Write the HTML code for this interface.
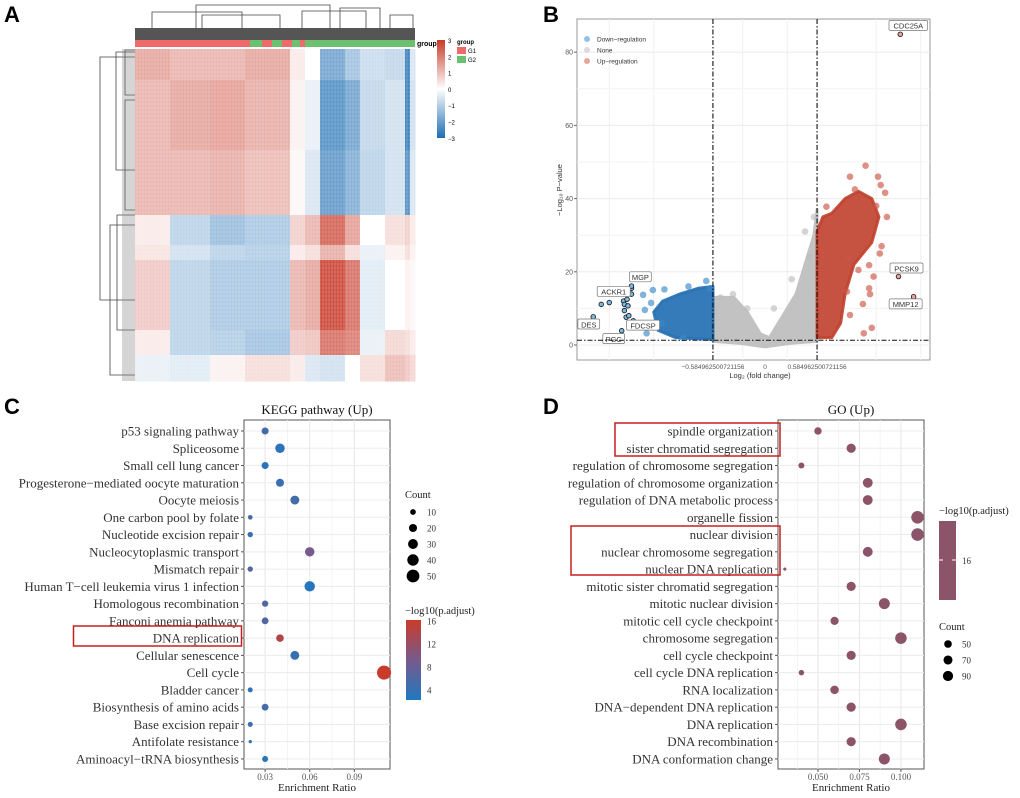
<!DOCTYPE html>
<html><head><meta charset="utf-8"><style>
body{margin:0;background:#fff;}
svg{display:block;font-family:"Liberation Serif",serif;}
</style></head><body>
<svg id="fig" width="1020" height="798" viewBox="0 0 1020 798" xmlns="http://www.w3.org/2000/svg">
<g font-family="Liberation Sans,sans-serif" font-weight="bold" font-size="22" fill="#000">
<text x="4" y="22">A</text>
<text x="543" y="22">B</text>
<text x="4" y="414">C</text>
<text x="543" y="414">D</text>
</g>
<g id="pa"></g>
<g id="pb"></g>
<g id="pc"></g>
<g id="pd"></g>
</svg>
<script>
const NS="http://www.w3.org/2000/svg";
function mk(p,t,a,txt){const e=document.createElementNS(NS,t);for(const k in a)e.setAttribute(k,a[k]);if(txt!==undefined)e.textContent=txt;p.appendChild(e);return e;}

// ---------- Panel A data ----------
const hmColBreaks=[135,170,210,245,290,305,320,345,360,385,405,410,415];
const hmRowBreaks=[49,80,150,215,245,260,330,355,381];
const hmValues=[
[1.3,1.1,1.1,1.3,0.3,0,-1.8,-1.2,-0.7,-0.8,-2.5,-0.5],
[1.1,1.3,1.4,1.2,0.2,-0.3,-2.2,-1.8,-0.8,-0.6,-2.5,-0.6],
[1.1,1.1,1.2,1.0,0.1,-0.5,-2.0,-1.6,-0.9,-0.6,-2.2,-0.5],
[0.3,-0.9,-1.3,-1.1,0.7,1.1,2.3,1.4,0.0,0.5,0.7,0.3],
[0.4,-0.6,-0.9,-1.0,0.3,0.5,1.2,0.5,-0.3,0.2,0.5,0.2],
[0.8,-0.9,-1.1,-1.1,1.1,1.3,2.7,2.1,-0.4,0.0,0.2,0.1],
[0.3,-0.9,-1.0,-1.2,0.8,0.9,2.1,1.9,-0.3,0.6,0.5,0.3],
[-0.3,-0.4,0.2,0.5,0.3,-0.5,-0.6,0.0,0.5,1.0,0.8,0.6]];
const groupSegs=[[135,"G1"],[175,"G1"],[185,"G1"],[250,"G2"],[262,"G1"],[272,"G2"],[282,"G1"],[292,"G2"],[300,"G1"],[305,"G2"],[326,"G2"],[415,"end"]];
const hmLegendTicks=[3,2,1,0,-1,-2,-3];

function hmColor(v){v=Math.max(-3,Math.min(3,v));const w=[255,255,255],r=[200,58,41],b=[30,110,180];const t=Math.abs(v)/3,c=v>0?r:b;return `rgb(${w.map((x,i)=>Math.round(x+(c[i]-x)*t)).join(',')})`;}
(function(){
 const g=document.getElementById('pa');
 for(let i=0;i<hmValues.length;i++)for(let j=0;j<hmValues[i].length;j++){
  const r=mk(g,'rect',{x:hmColBreaks[j],y:hmRowBreaks[i],width:hmColBreaks[j+1]-hmColBreaks[j]+0.5,height:hmRowBreaks[i+1]-hmRowBreaks[i]+0.5,fill:hmColor(hmValues[i][j])});
  
  
 }
 for(let x=137;x<415;x+=3){mk(g,'line',{x1:x,y1:49,x2:x,y2:381,stroke:'#fff','stroke-opacity':0.2,'stroke-width':1});}
 for(let y=52;y<381;y+=4){mk(g,'line',{x1:135,y1:y,x2:415,y2:y,stroke:'#fff','stroke-opacity':0.12,'stroke-width':1});}
 for(let k=0;k<groupSegs.length-1;k++){
  const r=mk(g,'rect',{x:groupSegs[k][0],y:40,width:groupSegs[k+1][0]-groupSegs[k][0],height:7,fill:groupSegs[k][1]=="G1"?"#ef6a6a":"#6cc070"});
  
  
 }
 mk(g,'text',{x:417,y:46,'font-size':7,'font-family':'Liberation Sans,sans-serif','font-weight':'bold'},'group');
 mk(g,'rect',{x:135,y:28,width:280,height:12,fill:'#555',});
 const dg=[[196,5,330,1],[152,12,242,5],[202,15,280,11],[340,8,380,15],[302,11,366,5],[390,15,413,15]];
 dg.forEach(d=>{mk(g,'path',{d:`M${d[0]} 28 V${d[1]} H${d[2]} V28`,fill:'none',stroke:'#444','stroke-width':0.8});});
 const ld=[[100,57,300,1],[116,52,170,18],[117,215,330,12],[110,225,375,8],[125,50,95,20],[125,100,210,22]];
 ld.forEach(d=>{mk(g,'path',{d:`M135 ${d[1]} H${d[0]} V${d[2]} H135`,fill:'none',stroke:'#444','stroke-width':0.8});});
 mk(g,'rect',{x:122,y:49,width:13,height:332,fill:'#888','fill-opacity':0.35,});
 const lg=mk(g,'defs',{});const gr=mk(lg,'linearGradient',{id:'hmg',x1:0,y1:0,x2:0,y2:1});
 [[0,'#c83a29'],[0.5,'#fff'],[1,'#1e6eb4']].forEach(s=>mk(gr,'stop',{offset:s[0],'stop-color':s[1]}));
 mk(g,'rect',{x:437,y:40,width:8,height:98,fill:'url(#hmg)',});
 hmLegendTicks.forEach((t,i)=>mk(g,'text',{x:448,y:43+i*16.3,'font-size':6,'font-family':'Liberation Sans,sans-serif'},t>=0?String(t):'−'+(-t)));
 mk(g,'text',{x:457,y:44,'font-size':6,'font-family':'Liberation Sans,sans-serif','font-weight':'bold'},'group');
 mk(g,'rect',{x:457,y:47,width:9,height:7,fill:'#ef6a6a'});mk(g,'text',{x:468,y:53,'font-size':6,'font-family':'Liberation Sans,sans-serif'},'G1');
 mk(g,'rect',{x:457,y:56,width:9,height:7,fill:'#6cc070'});mk(g,'text',{x:468,y:62,'font-size':6,'font-family':'Liberation Sans,sans-serif'},'G2');
})();

// ---------- Panel B data ----------
const grayEnvelope=[[-0.585,1],[-0.585,13],[-0.35,13],[-0.2,9],[-0.05,3],[0.05,2],[0.2,8],[0.35,14],[0.45,22],[0.55,30],[0.585,37],[0.585,1],[0.3,0.5],[0,-0.5],[-0.3,0.5]];
const blueEnvelope=[[-0.585,1.5],[-0.585,16],[-0.75,15.5],[-0.95,14],[-1.15,12],[-1.25,9],[-1.2,4],[-1.0,2]];
const redEnvelope=[[0.585,2],[0.585,31],[0.65,35],[0.75,36],[0.9,40],[1.05,42],[1.2,40],[1.28,35],[1.2,28],[1.0,22],[0.9,14],[0.85,6],[0.75,2]];
const bluePoints=[[-1.37,13.7],[-1.26,15],[-1.13,15.2],[-0.86,16],[-0.66,17.5],[-1.33,3.2],[-1.16,6],[-0.92,1.9],[-1.35,9.6],[-1.28,11.5],[-0.62,15.5]];
const redPoints=[[1.13,49],[0.955,46],[1.27,46],[1.30,43.7],[1.01,42.5],[1.35,41.6],[1.37,35],[1.31,27],[1.29,25],[1.17,21.8],[1.22,18.7],[1.17,15.5],[1.18,13.9],[1.10,11.2],[1.20,4.7],[1.11,3.2],[0.955,8.2],[0.92,14.6],[1.05,20.5],[0.94,24],[0.69,37.8],[1.25,38]];
const grayPoints=[[-0.5,13],[-0.36,13.9],[-0.2,10],[0.1,10],[0.3,18],[0.45,31],[0.55,35],[0.5,24]];
const labeledGenes=[["CDC25A",1.52,84.9,"up"],["PCSK9",1.50,18.7,"up"],["MMP12",1.67,13.2,"up"],["MGP",-1.50,16.1,"down"],["ACKR1",-1.55,12.5,"down"],["DES",-1.93,7.7,"down"],["FDCSP",-1.48,6.6,"down"],["PGC",-1.61,3.9,"down"]];
const extraLabeled=[[-1.84,11.1],[-1.75,11.6],[-1.59,12],[-1.58,11.1],[-1.54,10.7],[-1.50,13.9],[-1.50,15.5],[-1.58,9.4],[-1.56,7.6],[-1.53,8]];
const labelPos={CDC25A:[1.61,87.2],PCSK9:[1.59,20.9],MMP12:[1.58,11.1],MGP:[-1.40,18.5],ACKR1:[-1.70,14.5],DES:[-1.98,5.6],FDCSP:[-1.37,5.3],PGC:[-1.70,1.6]};
const volYTicks=[0,20,40,60,80];
const volXTicks=[-0.584962500721156,0,0.584962500721156];
(function(){
 const g=document.getElementById('pb');
 const X0=577,X1=930,Y0=19,Y1=360;
 const xs=v=>765+v*89, ys=v=>345-v*3.66;
 mk(g,'rect',{x:X0,y:Y0,width:X1-X0,height:Y1-Y0,fill:'#fff',stroke:'#999','stroke-width':1,});
 [-1.75,-1.25,-0.25,0.25,1.25,1.75].forEach(v=>mk(g,'line',{x1:xs(v),y1:Y0,x2:xs(v),y2:Y1,stroke:'#f0f0f0'}));
 [10,30,50,70].forEach(v=>mk(g,'line',{x1:X0,y1:ys(v),x2:X1,y2:ys(v),stroke:'#f3f3f3'}));
 volYTicks.forEach(v=>{mk(g,'line',{x1:X0,y1:ys(v),x2:X1,y2:ys(v),stroke:'#ececec'});mk(g,'line',{x1:X0-3,y1:ys(v),x2:X0,y2:ys(v),stroke:'#666'});
  const t=mk(g,'text',{x:X0-4,y:ys(v)+2.5,'font-size':7,'text-anchor':'end',fill:'#555','font-family':'Liberation Sans,sans-serif'},String(v));});
 volXTicks.forEach(v=>{const t=mk(g,'text',{x:xs(v),y:369,'font-size':6.5,'text-anchor':'middle',fill:'#555','font-family':'Liberation Sans,sans-serif'},v<0?'−'+(-v):String(v));});
 const poly=(pts,fill,name,op)=>{const p=mk(g,'polygon',{points:pts.map(p=>xs(p[0])+','+ys(p[1])).join(' '),fill:fill,'fill-opacity':op,stroke:fill,'stroke-opacity':op,'stroke-width':3,'stroke-linejoin':'round'});};
 poly(grayEnvelope,'#c2c2c2','none-density',1);
 poly(blueEnvelope,'#2a73b5','down-density',0.95);
 poly(redEnvelope,'#c0402e','up-density',0.9);
 const pts=(arr,fill,name)=>arr.forEach(p=>{const c=mk(g,'circle',{cx:xs(p[0]),cy:ys(p[1]),r:3.3,fill:fill,'fill-opacity':0.65});});
 pts(grayPoints,'#bdbdbd','none-point');pts(bluePoints,'#3b8ac8','down-point');pts(redPoints,'#cc5545','up-point');
 extraLabeled.forEach(p=>mk(g,'circle',{cx:xs(p[0]),cy:ys(p[1]),r:2.3,fill:'#7fb8e0',stroke:'#111','stroke-width':0.8}));
 labeledGenes.forEach(d=>{const c=mk(g,'circle',{cx:xs(d[1]),cy:ys(d[2]),r:2.3,fill:d[3]=='up'?'#e8a49c':'#7fb8e0',stroke:'#111','stroke-width':0.8});
  const lp=labelPos[d[0]];const lx=xs(lp[0]),ly=ys(lp[1]);const w=d[0].length*5.6+5;
  const r=mk(g,'rect',{x:lx-w/2,y:ly-5.5,width:w,height:10,fill:'#fff',stroke:'#777','stroke-width':0.7,rx:1.5});
  mk(g,'text',{x:lx,y:ly+2.8,'font-size':7.5,'text-anchor':'middle','font-family':'Liberation Sans,sans-serif',fill:'#333'},d[0]);});
 const dash='5,2,1.5,2';
 [-0.585,0.585].forEach(v=>mk(g,'line',{x1:xs(v),y1:Y0,x2:xs(v),y2:Y1,stroke:'#111','stroke-width':1.1,'stroke-dasharray':dash,}));
 mk(g,'line',{x1:X0,y1:ys(1.3),x2:X1,y2:ys(1.3),stroke:'#111','stroke-width':1.1,'stroke-dasharray':dash,});
 [['Down−regulation','#8fc3e6',39],['None','#dcdcdc',50],['Up−regulation','#eaa59c',61]].forEach(l=>{mk(g,'circle',{cx:587,cy:l[2],r:3,fill:l[1]});const t=mk(g,'text',{x:597,y:l[2]+2.3,'font-size':6.5,'font-family':'Liberation Sans,sans-serif',fill:'#333'},l[0]);});
 mk(g,'text',{x:760,y:378,'font-size':7.5,'text-anchor':'middle','font-family':'Liberation Sans,sans-serif',fill:'#333',},'Log₂ (fold change)');
 mk(g,'text',{x:0,y:0,transform:'translate(562,190) rotate(-90)','font-size':7.5,'text-anchor':'middle','font-family':'Liberation Sans,sans-serif',fill:'#333',},'−Log₁₀ P−value');
})();

// ---------- Panel C data ----------
const keggTerms=["p53 signaling pathway","Spliceosome","Small cell lung cancer","Progesterone−mediated oocyte maturation","Oocyte meiosis","One carbon pool by folate","Nucleotide excision repair","Nucleocytoplasmic transport","Mismatch repair","Human T−cell leukemia virus 1 infection","Homologous recombination","Fanconi anemia pathway","DNA replication","Cellular senescence","Cell cycle","Bladder cancer","Biosynthesis of amino acids","Base excision repair","Antifolate resistance","Aminoacyl−tRNA biosynthesis"];
const keggRatio=[0.03,0.04,0.03,0.04,0.05,0.02,0.02,0.06,0.02,0.06,0.03,0.03,0.04,0.05,0.11,0.02,0.03,0.02,0.02,0.03];
const keggCount=[14,25,14,18,22,6,8,25,8,30,11,13,16,22,55,7,13,7,3,10];
const keggLogP=[5,3,3,4,5,5,4,9,6,2.5,6,6,14,4,16,3,5,4,3,3];
const keggXTicks=[0.03,0.06,0.09];
const keggCountLegend=[10,20,30,40,50];
const keggColorTicks=[16,12,8,4];

// ---------- Panel D data ----------
const goTerms=["spindle organization","sister chromatid segregation","regulation of chromosome segregation","regulation of chromosome organization","regulation of DNA metabolic process","organelle fission","nuclear division","nuclear chromosome segregation","nuclear DNA replication","mitotic sister chromatid segregation","mitotic nuclear division","mitotic cell cycle checkpoint","chromosome segregation","cell cycle checkpoint","cell cycle DNA replication","RNA localization","DNA−dependent DNA replication","DNA replication","DNA recombination","DNA conformation change"];
const goRatio=[0.05,0.07,0.04,0.08,0.08,0.11,0.11,0.08,0.03,0.07,0.09,0.06,0.10,0.07,0.04,0.06,0.07,0.10,0.07,0.09];
const goCount=[45,70,30,80,80,130,130,80,8,70,100,55,110,70,25,60,70,110,70,100];
const goXTicks=[0.050,0.075,0.100];
const goCountLegend=[50,70,90];

function colorP(v){const t=Math.max(0,Math.min(1,(v-2)/14));const a=[31,120,192],m=[120,90,140],b=[201,59,42];let c;if(t<0.5){const s=t/0.5;c=a.map((x,i)=>x+(m[i]-x)*s);}else{const s=(t-0.5)/0.5;c=m.map((x,i)=>x+(b[i]-x)*s);}return `rgb(${c.map(Math.round).join(',')})`;}

function dotPlot(g,cfg){
 const {X0,X1,Y0,Y1,xmin,xmax,terms,ratio,count,rfun,colfun,ticks,tfmt,title}=cfg;
 const xs=v=>X0+(v-xmin)/(xmax-xmin)*(X1-X0);
 const ys=i=>431+i*17.26;
 mk(g,'rect',{x:X0,y:Y0,width:X1-X0,height:Y1-Y0,fill:'#fff',stroke:'#555','stroke-width':1,});
 ticks.forEach((t,k)=>{mk(g,'line',{x1:xs(t),y1:Y0,x2:xs(t),y2:Y1,stroke:'#e6e6e6','stroke-width':1});
   if(k<ticks.length-1){const h=(t+ticks[k+1])/2;mk(g,'line',{x1:xs(h),y1:Y0,x2:xs(h),y2:Y1,stroke:'#f2f2f2','stroke-width':0.8});}
   mk(g,'line',{x1:xs(t),y1:Y1,x2:xs(t),y2:Y1+3,stroke:'#555'});
   const tx=mk(g,'text',{x:xs(t),y:Y1+11,'font-size':9,'text-anchor':'middle',fill:'#555'},tfmt(t));});
 {const h=ticks[0]-(ticks[1]-ticks[0])/2;if(xs(h)>X0)mk(g,'line',{x1:xs(h),y1:Y0,x2:xs(h),y2:Y1,stroke:'#f2f2f2','stroke-width':0.8});}
 terms.forEach((t,i)=>{mk(g,'line',{x1:X0,y1:ys(i),x2:X1,y2:ys(i),stroke:'#ececec','stroke-width':1});
   mk(g,'line',{x1:X0-3,y1:ys(i),x2:X0,y2:ys(i),stroke:'#555'});
   const tx=mk(g,'text',{x:X0-5,y:ys(i)+4.5,'font-size':13,'text-anchor':'end',fill:'#333'},t);});
 terms.forEach((t,i)=>{const c=mk(g,'circle',{cx:xs(ratio[i]),cy:ys(i),r:rfun(count[i]),fill:colfun(i)});});
 mk(g,'text',{x:(X0+X1)/2,y:Y0-6,'font-size':13,'text-anchor':'middle',fill:'#111',},title);
 mk(g,'text',{x:(X0+X1)/2,y:Y1+22,'font-size':11,'text-anchor':'middle',fill:'#222',},'Enrichment Ratio');
}
(function(){
 const g=document.getElementById('pc');
 const rf=c=>0.95*Math.sqrt(c);
 dotPlot(g,{X0:244,X1:390,Y0:420,Y1:769,xmin:0.0158,xmax:0.114,terms:keggTerms,ratio:keggRatio,count:keggCount,rfun:rf,colfun:i=>colorP(keggLogP[i]),ticks:keggXTicks,tfmt:t=>t.toFixed(2),title:'KEGG pathway (Up)'});
 mk(g,'text',{x:405,y:498,'font-size':10.5,fill:'#222'},'Count');
 keggCountLegend.forEach((c,i)=>{mk(g,'circle',{cx:413,cy:512+i*16,r:rf(c)*0.95,fill:'#000'});const t=mk(g,'text',{x:427,y:515.5+i*16,'font-size':9,fill:'#333'},String(c));});
 mk(g,'text',{x:405,y:614,'font-size':10.5,fill:'#222'},'−log10(p.adjust)');
 const df=mk(g,'defs',{});const gr=mk(df,'linearGradient',{id:'kg',x1:0,y1:0,x2:0,y2:1});
 [[0,colorP(16)],[0.5,colorP(9)],[1,colorP(2)]].forEach(s=>mk(gr,'stop',{offset:s[0],'stop-color':s[1]}));
 mk(g,'rect',{x:406,y:620,width:15,height:80,fill:'url(#kg)',});
 keggColorTicks.forEach(v=>{const y=620+(16.3-v)*5.75;mk(g,'text',{x:427,y:y+3,'font-size':9,fill:'#333'},String(v));});
 mk(g,'rect',{x:73.5,y:626,width:168,height:20,fill:'none',stroke:'#c8201e','stroke-width':1.5,});
})();
(function(){
 const g=document.getElementById('pd');
 const rf=c=>0.55*Math.sqrt(c);
 dotPlot(g,{X0:778,X1:924,Y0:420,Y1:769,xmin:0.0259,xmax:0.1139,terms:goTerms,ratio:goRatio,count:goCount,rfun:rf,colfun:i=>'#8b5468',ticks:goXTicks,tfmt:t=>t.toFixed(3),title:'GO (Up)'});
 mk(g,'text',{x:939,y:514,'font-size':10.5,fill:'#222'},'−log10(p.adjust)');
 mk(g,'rect',{x:939,y:521,width:17,height:79,fill:'#8b5468',});
 mk(g,'line',{x1:939,y1:560,x2:943,y2:560,stroke:'#fff'});mk(g,'line',{x1:952,y1:560,x2:956,y2:560,stroke:'#fff'});
 mk(g,'text',{x:962,y:564,'font-size':9,fill:'#333'},'16');
 mk(g,'text',{x:939,y:630,'font-size':10.5,fill:'#222'},'Count');
 goCountLegend.forEach((c,i)=>{mk(g,'circle',{cx:948,cy:644+i*16,r:rf(c)*0.98,fill:'#000'});const t=mk(g,'text',{x:962,y:647.5+i*16,'font-size':9,fill:'#333'},String(c));});
 mk(g,'rect',{x:615,y:423,width:165,height:33,fill:'none',stroke:'#c8201e','stroke-width':1.5,});
 mk(g,'rect',{x:571,y:526,width:209,height:49,fill:'none',stroke:'#c8201e','stroke-width':1.5,});
})();
</script>
</body></html>
